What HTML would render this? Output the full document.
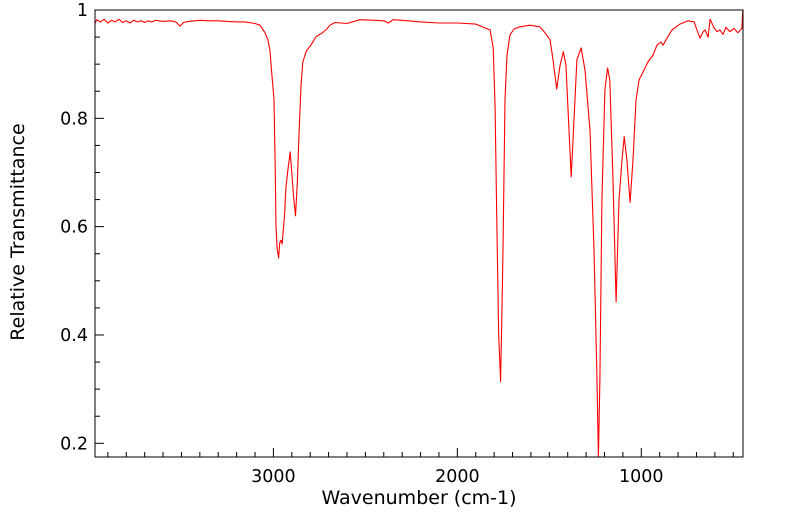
<!DOCTYPE html>
<html><head><meta charset="utf-8"><style>
body{margin:0;background:#fff;}
svg{display:block;font-family:"DejaVu Sans","Liberation Sans",sans-serif;}
</style></head><body>
<svg id="chart" width="799" height="516" viewBox="0 0 799 516">
<g id="ticks"></g>
<polyline id="series" fill="none" stroke="#ff0000" stroke-width="1.1" stroke-linejoin="round"/>
<rect x="95" y="10" width="648" height="447" fill="none" stroke="#000" stroke-width="1"/>
<text x="419" y="504" font-size="19" text-anchor="middle">Wavenumber (cm-1)</text>
<text x="24" y="232" font-size="19" text-anchor="middle" transform="rotate(-90 24 232)">Relative Transmittance</text>
</svg>
<script>
const wavenumbers=[3970,3960,3940,3920,3900,3880,3860,3840,3820,3800,3780,3760,3740,3720,3700,3680,3660,3640,3600,3560,3530,3508,3490,3460,3400,3350,3300,3250,3200,3155,3100,3073,3046,3030,3019,3008,2997,2990,2986,2980,2972,2966,2959,2953,2940,2932,2921,2909,2898,2890,2880,2870,2861,2850,2840,2820,2796,2770,2758,2737,2710,2693,2665,2600,2529,2450,2400,2375,2350,2300,2200,2100,2000,1900,1822,1805,1795,1785,1775,1765,1757,1752,1741,1730,1714,1692,1660,1605,1551,1524,1496,1480,1460,1442,1424,1410,1393,1381,1366,1350,1327,1306,1279,1257,1241,1233,1225,1214,1198,1183,1171,1154,1137,1121,1105,1093,1078,1061,1045,1029,1012,985,964,936,915,893,882,860,833,790,746,713,697,680,664,653,637,626,604,588,572,556,540,518,496,475,453,448];
const transmittance=[.975,.982,.978,.983,.976,.981,.978,.983,.977,.980,.976,.981,.978,.980,.977,.980,.978,.981,.979,.980,.978,.970,.977,.979,.981,.980,.980,.979,.978,.978,.975,.972,.958,.945,.926,.88,.835,.70,.60,.56,.542,.57,.575,.568,.62,.672,.705,.738,.69,.655,.620,.68,.77,.86,.904,.925,.935,.95,.953,.957,.965,.972,.977,.975,.982,.981,.980,.976,.982,.981,.978,.976,.976,.974,.963,.93,.82,.6,.4,.314,.45,.557,.834,.917,.954,.965,.969,.972,.969,.958,.945,.908,.854,.897,.923,.899,.778,.692,.797,.908,.930,.889,.778,.557,.317,.17,.317,.649,.852,.893,.871,.686,.461,.649,.723,.766,.723,.645,.723,.834,.871,.889,.904,.917,.935,.941,.935,.948,.963,.974,.980,.978,.963,.948,.96,.963,.95,.983,.967,.96,.963,.955,.968,.96,.966,.958,.966,1.0];
const xTickLabels=[3000,2000,1000];
const yTickLabels=[0.2,0.4,0.6,0.8,1];
const X0=95,X1=743,Y0=10,Y1=457,WMAX=3970,WMIN=447,TMAX=1,TMIN=0.1747;
function xs(w){return X0+(WMAX-w)/(WMAX-WMIN)*(X1-X0);}
function ys(t){return Y0+(TMAX-t)/(TMAX-TMIN)*(Y1-Y0);}
const NS="http://www.w3.org/2000/svg";
const line=document.getElementById('series');
line.setAttribute('points',wavenumbers.map((w,i)=>xs(w).toFixed(1)+','+Math.min(Y1,ys(transmittance[i])).toFixed(1)).join(' '));
const g=document.getElementById('ticks');
function mk(tag,attrs){const e=document.createElementNS(NS,tag);for(const k in attrs)e.setAttribute(k,attrs[k]);g.appendChild(e);return e;}
for(let w=3900;w>WMIN;w-=100){const x=xs(w);const major=w%1000===0;
const t=mk('line',{x1:x,x2:x,y1:Y1,y2:Y1-(major?9:5),stroke:'#000','stroke-width':1});

}
xTickLabels.forEach(w=>{const t=mk('text',{x:xs(w),y:482,'font-size':17.5,'text-anchor':'middle'});t.textContent=String(w);

});
for(let v=0.2;v<1.0;v+=0.05){const y=ys(v);const major=Math.abs(v*10-Math.round(v*10))<1e-6&&Math.round(v*10)%2===0;
const t=mk('line',{x1:X0,x2:X0+(major?9:5),y1:y,y2:y,stroke:'#000','stroke-width':1});

}
yTickLabels.forEach(v=>{const t=mk('text',{x:88,y:ys(v)+6,'font-size':17.5,'text-anchor':'end'});t.textContent=String(v);

});
</script>
</body></html>
